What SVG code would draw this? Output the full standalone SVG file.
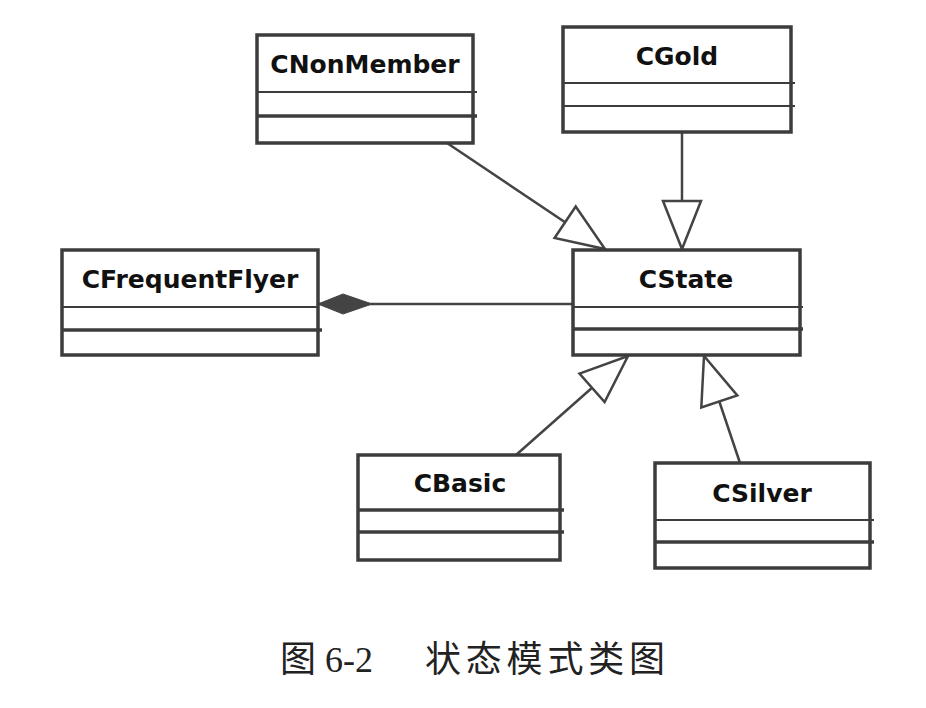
<svg xmlns="http://www.w3.org/2000/svg" width="926" height="708" viewBox="0 0 926 708">
<defs>
<style>
.box{fill:#fff;stroke:#3c3c3c;stroke-width:3.5}
.dv{stroke:#3c3c3c;stroke-width:2.2}
.dk{stroke:#3c3c3c;stroke-width:3.5}
.name{font-family:"DejaVu Sans",Verdana,sans-serif;font-weight:bold;font-size:25px;fill:#111;text-anchor:middle}
.conn{stroke:#444;stroke-width:2.5;fill:none}
.cap{font-family:"Liberation Serif","Noto Sans CJK SC",serif;font-size:36px;fill:#222}
</style>
<marker id="tri" viewBox="-2 -2 52 42" refX="48" refY="19" markerWidth="52" markerHeight="42" markerUnits="userSpaceOnUse" orient="auto" overflow="visible">
<path d="M0,0 L48,19 L0,38 Z" fill="#fff" stroke="#444" stroke-width="2.5" stroke-linejoin="miter"/>
</marker>
<marker id="dia" viewBox="0 0 54 22" refX="0" refY="11" markerWidth="54" markerHeight="22" markerUnits="userSpaceOnUse" orient="auto" overflow="visible">
<path d="M0,11 L25,1 L54,11 L25,21 Z" fill="#444" stroke="#444" stroke-width="1"/>
</marker>
</defs>
<rect width="926" height="708" fill="#fff"/>
<g id="connectors">
<line class="conn" x1="447" y1="143" x2="605" y2="249" marker-end="url(#tri)"/>
<line class="conn" x1="682" y1="132" x2="682" y2="249" marker-end="url(#tri)"/>
<line class="conn" x1="516" y1="455" x2="628" y2="356" marker-end="url(#tri)"/>
<line class="conn" x1="740" y1="463" x2="704" y2="356" marker-end="url(#tri)"/>
<line class="conn" x1="318" y1="304" x2="573" y2="304" marker-start="url(#dia)"/>
</g>
<g id="CNonMember">
<rect class="box" x="257" y="35" width="216" height="108"/>
<line class="dv" x1="257" y1="92" x2="477" y2="92"/>
<line class="dk" x1="257" y1="116" x2="477" y2="116"/>
<text class="name" x="365" y="73">CNonMember</text>
</g>
<g id="CGold">
<rect class="box" x="563" y="27" width="228" height="105"/>
<line class="dv" x1="563" y1="83" x2="795" y2="83"/>
<line class="dv" x1="563" y1="106" x2="795" y2="106"/>
<text class="name" x="677" y="65">CGold</text>
</g>
<g id="CFrequentFlyer">
<rect class="box" x="62" y="250" width="256" height="105"/>
<line class="dv" x1="62" y1="307" x2="318" y2="307"/>
<line class="dk" x1="62" y1="330" x2="322" y2="330"/>
<text class="name" x="190" y="288">CFrequentFlyer</text>
</g>
<g id="CState">
<rect class="box" x="573" y="250" width="227" height="105"/>
<line class="dv" x1="573" y1="307" x2="803" y2="307"/>
<line class="dk" x1="573" y1="329" x2="803" y2="329"/>
<text class="name" x="686" y="288">CState</text>
</g>
<g id="CBasic">
<rect class="box" x="358" y="455" width="202" height="105"/>
<line class="dk" x1="358" y1="510" x2="564" y2="510"/>
<line class="dk" x1="358" y1="532" x2="564" y2="532"/>
<text class="name" x="460" y="492">CBasic</text>
</g>
<g id="CSilver">
<rect class="box" x="655" y="463" width="215" height="105"/>
<line class="dv" x1="655" y1="520" x2="874" y2="520"/>
<line class="dk" x1="655" y1="542" x2="874" y2="542"/>
<text class="name" x="762" y="502">CSilver</text>
</g>
<text class="cap" y="672"><tspan x="280">图</tspan><tspan x="325">6-2</tspan><tspan x="425" textLength="240" lengthAdjust="spacing">状态模式类图</tspan></text>
</svg>
